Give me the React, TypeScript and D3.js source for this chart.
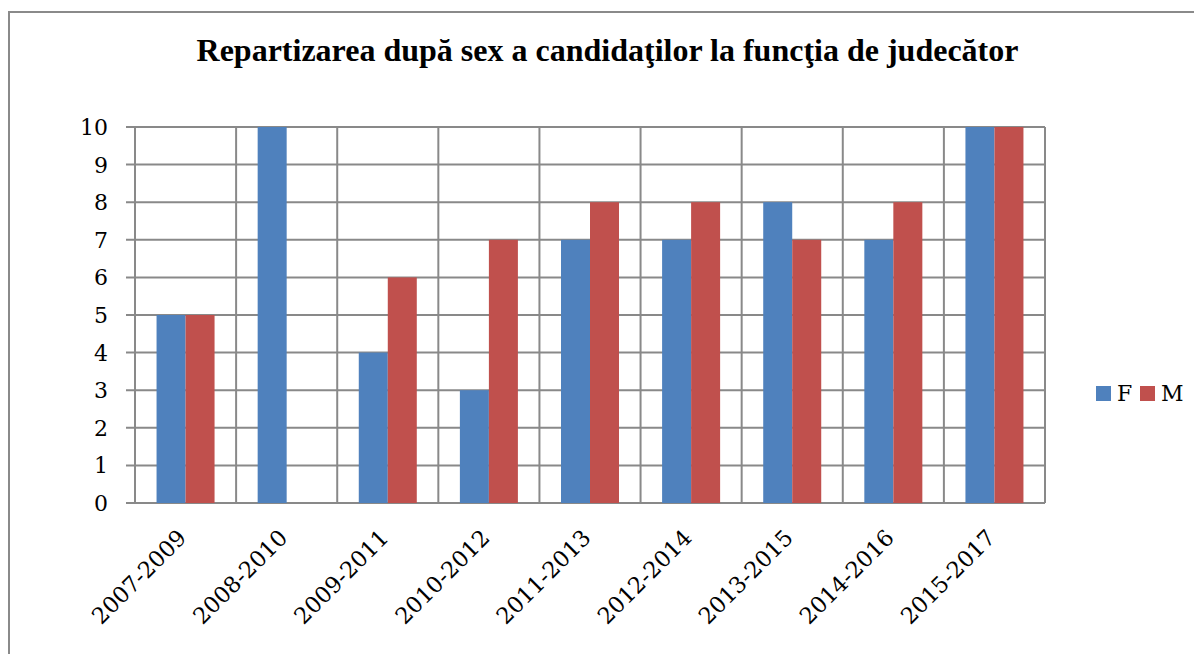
import React from "react";
import * as d3 from "d3";

const title = "Repartizarea după sex a candidaţilor la funcţia de judecător";
const categories = ["2007-2009", "2008-2010", "2009-2011", "2010-2012", "2011-2013", "2012-2014", "2013-2015", "2014-2016", "2015-2017"];
const seriesNames = ["F", "M"];
const valuesF = [5, 10, 4, 3, 7, 7, 8, 7, 10];
const valuesM = [5, 0, 6, 7, 8, 8, 7, 8, 10];
const yTicks = [0, 1, 2, 3, 4, 5, 6, 7, 8, 9, 10];
const colors = ["#4F81BD", "#C0504D"];

export default function App() {
  const W = 1194, H = 654;
  const left = 135, right = 1045, top = 127, bottom = 503;
  const x0 = d3.scaleBand<string>().domain(categories).range([left, right]).padding(0);
  const x1 = d3.scaleBand<string>().domain(seriesNames).range([0, x0.bandwidth()]).paddingInner(0).paddingOuter(0.743);
  const y = d3.scaleLinear().domain([0, 10]).range([bottom, top]);
  const series = [valuesF, valuesM];
  const grid = "#898989";
  const axisFont = "'DejaVu Serif', serif";
  return (
    <svg width={W} height={H} style={{ position: "fixed", left: 0, top: 0, background: "#fff" }}>
      <rect x={0} y={0} width={W} height={H} fill="#fff" />
      <rect x={9} y={12} width={W + 20} height={H + 20} fill="none" stroke="#8a8a8a" strokeWidth={2} />
      <text x={607.5} y={61} textAnchor="middle" fontFamily="'Liberation Serif', 'Times New Roman', serif" fontWeight="bold" fontSize={32} fill="#000">{title}</text>
      {yTicks.map((t) => (
        <line key={"h" + t} x1={126} x2={right} y1={y(t)} y2={y(t)} stroke={grid} strokeWidth={2} />
      ))}
      {d3.range(categories.length + 1).map((i) => {
        const xx = left + i * x0.step();
        return <line key={"v" + i} x1={xx} x2={xx} y1={top} y2={bottom} stroke={grid} strokeWidth={2} />;
      })}
      {categories.map((c, ci) => (
        <g key={c} transform={`translate(${x0(c)},0)`}>
          {seriesNames.map((s, si) => {
            const v = series[si][ci];
            if (!v) return null;
            return <rect key={s} x={x1(s)} y={y(v)} width={x1.bandwidth()} height={y(0) - y(v)} fill={colors[si]} />;
          })}
        </g>
      ))}
      {yTicks.map((t) => (
        <text key={"yl" + t} x={108} y={y(t)} dy="0.36em" textAnchor="end" fontFamily={axisFont} fontSize={22} fill="#000">{t}</text>
      ))}
      {categories.map((c) => {
        const cx = (x0(c) as number) + x0.bandwidth() / 2 - 9;
        return (
          <text key={"xl" + c} transform={`translate(${cx},${528}) rotate(-45)`} textAnchor="end" dy="0.7em" fontFamily={axisFont} fontSize={22.5} fill="#000">{c}</text>
        );
      })}
      {seriesNames.map((s, i) => (
        <g key={"lg" + s} transform={`translate(${1096 + i * 44},386)`}>
          <rect x={0} y={0} width={15} height={15} fill={colors[i]} />
          <text x={21} y={7.5} dy="0.36em" fontFamily={axisFont} fontSize={22} fill="#000">{s}</text>
        </g>
      ))}
    </svg>
  );
}
